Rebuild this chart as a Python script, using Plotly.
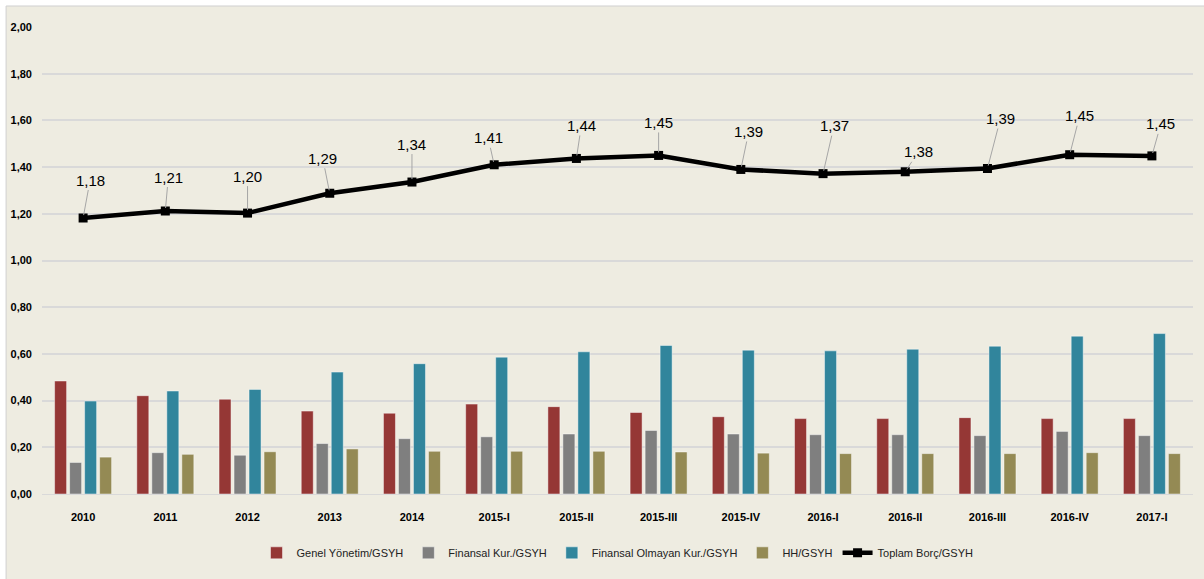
import plotly.graph_objects as go

# categories (periods)
periods = ['2010', '2011', '2012', '2013', '2014', '2015-I', '2015-II', '2015-III',
           '2015-IV', '2016-I', '2016-II', '2016-III', '2016-IV', '2017-I']

# ratios to GDP
genel_yonetim = [0.484, 0.421, 0.406, 0.355, 0.346, 0.385, 0.374, 0.349,
                 0.331, 0.323, 0.323, 0.327, 0.323, 0.323]
finansal_kur = [0.135, 0.177, 0.166, 0.216, 0.237, 0.245, 0.257, 0.272,
                0.257, 0.254, 0.254, 0.250, 0.268, 0.250]
finansal_olmayan = [0.398, 0.441, 0.448, 0.522, 0.558, 0.586, 0.609, 0.636,
                    0.616, 0.613, 0.620, 0.633, 0.676, 0.687]
hh = [0.158, 0.170, 0.181, 0.193, 0.183, 0.183, 0.183, 0.180,
      0.175, 0.173, 0.173, 0.173, 0.177, 0.173]
toplam_borc = [1.182, 1.212, 1.203, 1.288, 1.336, 1.410, 1.437, 1.450,
               1.390, 1.372, 1.380, 1.394, 1.453, 1.448]

# label offsets (px) for the leader-line data labels of the total line
label_dx = [7, 3, 0, -7, 0, -6, 5, 0, 8, 11, 13, 13, 10, 9]
label_dy = [-38, -34, -37, -35, -38, -27, -33, -33, -38, -48, -20, -50, -39, -32]

FONT = 'Liberation Sans Narrow, Arial Narrow, Liberation Sans, sans-serif'
BG = '#EEECE1'

fig = go.Figure()

bar_series = [
    ('Genel Yönetim/GSYH', genel_yonetim, '#953735'),
    ('Finansal Kur./GSYH', finansal_kur, '#7F7F7F'),
    ('Finansal Olmayan Kur./GSYH', finansal_olmayan, '#31859C'),
    ('HH/GSYH', hh, '#948A54'),
]
for name, vals, color in bar_series:
    fig.add_trace(go.Bar(
        x=periods, y=vals, name=name,
        marker=dict(color=color, line=dict(color='rgba(255,255,255,0.45)', width=1)),
    ))

fig.add_trace(go.Scatter(
    x=periods, y=toplam_borc, name='Toplam Borç/GSYH',
    mode='lines+markers',
    line=dict(color='black', width=4.5),
    marker=dict(symbol='square', size=9, color='black'),
))

# annotations use the category index so numeric-looking labels aren't misread
for i, (v, dx, dy) in enumerate(zip(toplam_borc, label_dx, label_dy)):
    fig.add_annotation(
        x=i, y=v, text=f'{v:.2f}'.replace('.', ','),
        showarrow=True, arrowhead=0, arrowwidth=1, arrowcolor='#A6A6A6',
        ax=dx, ay=dy, standoff=3,
        font=dict(family=FONT, size=15, color='black'),
    )

# outer chart frame (white strip at top/left like the source)
fig.add_shape(type='rect', xref='paper', yref='paper',
              x0=-0.0312, x1=1.02, y0=-0.2, y1=1.045,
              fillcolor=BG, line=dict(color='#D0D0D0', width=1), layer='below')

fig.update_layout(
    width=1204, height=579,
    paper_bgcolor='white', plot_bgcolor=BG,
    separators=',.',
    margin=dict(l=40, r=11, t=27, b=85),
    barmode='group', bargap=0.27, bargroupgap=0.2,
    font=dict(family=FONT, color='black'),
    showlegend=True,
    legend=dict(orientation='h', x=0.5, xanchor='center', y=-0.126, yanchor='middle',
                font=dict(family=FONT, size=11, color='#222'),
                bgcolor='rgba(0,0,0,0)', itemwidth=30, tracegroupgap=0),
    xaxis=dict(type='category', range=[-0.5, len(periods) - 0.5],
               showgrid=False, showline=True, linecolor='#D9D9D9', linewidth=1,
               tickfont=dict(family=FONT, size=11, color='black', weight='bold'),
               ticks='', ticklabelstandoff=13),
    yaxis=dict(range=[0, 2.0], dtick=0.2, tickformat='.2f',
               showgrid=True, gridcolor='#D9D9D9', gridwidth=1.5,
               zeroline=False, showline=False, ticks='',
               tickfont=dict(family=FONT, size=11, color='black', weight='bold'),
               ticklabelstandoff=9),
)

# drop the default 8px body margin so the figure sits flush in the window
fig.write_html('out.html', config={'displayModeBar': False},
               post_script="document.body.style.margin='0';")
